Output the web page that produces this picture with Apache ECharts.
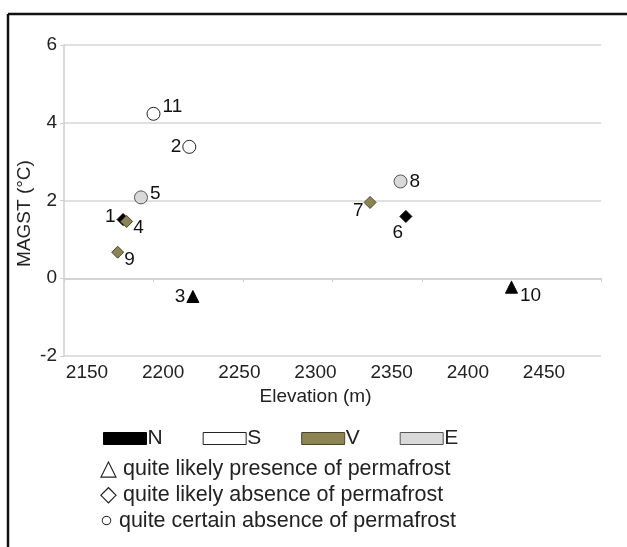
<!DOCTYPE html>
<html>
<head>
<meta charset="utf-8">
<script src="https://cdn.jsdelivr.net/npm/echarts@6/dist/echarts.min.js"></script>
<style>
  html, body { margin: 0; padding: 0; background: #fff; }
  #chart { width: 627px; height: 547px; }
</style>
</head>
<body>
<div id="chart"></div>
<script>
// site numbers, elevation (m), MAGST (°C)
const siteIds = ['1', '2', '3', '4', '5', '6', '7', '8', '9', '10', '11'];
const elevation = [2183, 2220, 2222, 2185, 2193, 2341, 2321, 2338, 2180, 2400, 2200];
const magst = [1.51, 3.38, -0.47, 1.46, 2.08, 1.59, 1.95, 2.49, 0.67, -0.23, 4.23];
// exposure: N / S / V / E
const exposure = ['N', 'S', 'N', 'V', 'E', 'N', 'V', 'E', 'V', 'N', 'S'];
// permafrost class: 0 presence likely, 1 absence likely, 2 absence certain
const pfClass = [1, 2, 0, 1, 2, 1, 1, 2, 1, 0, 2];

const exposureNames = ['N', 'S', 'V', 'E'];
const classNotes = [
  '\u25B3 quite likely presence of permafrost',
  '\u25C7 quite likely absence of permafrost',
  '\u25CB quite certain absence of permafrost'
];
const xTicks = [2150, 2200, 2250, 2300, 2350, 2400, 2450];
const yTicks = [-2, 0, 2, 4, 6];

const fills = {
  N: { color: '#000000', borderColor: '#000000' },
  S: { color: '#ffffff', borderColor: '#222222' },
  V: { color: '#8c8451', borderColor: '#4a4632' },
  E: { color: '#d9d9d9', borderColor: '#555555' }
};
const symbols = ['triangle', 'diamond', 'circle'];
const symbolSizes = [12, 12, 13];

// where each site number sits next to its marker
const labelSide = {
  '1': ['left', [2, -3]],
  '2': ['left', [2, 0]],
  '3': ['left', [2, 0]],
  '4': ['right', [-3, 6]],
  '5': ['right', [-1, -4]],
  '6': ['bottom', [-8, -3]],
  '7': ['left', [3, 8]],
  '8': ['right', [-1, 0]],
  '9': ['right', [-3, 8]],
  '10': ['right', [-1, 9]],
  '11': ['right', [-1, -7]]
};

const font = 'Liberation Sans, Arial, sans-serif';
const chart = echarts.init(document.getElementById('chart'));

const series = exposureNames.map(function (exp) {
  const data = [];
  siteIds.forEach(function (id, i) {
    if (exposure[i] !== exp) return;
    data.push({
      name: id,
      value: [elevation[i], magst[i]],
      symbol: symbols[pfClass[i]],
      symbolSize: symbolSizes[pfClass[i]],
      label: { position: labelSide[id][0], offset: labelSide[id][1] }
    });
  });
  return {
    name: exp,
    type: 'scatter',
    xAxisIndex: 0,
    yAxisIndex: 0,
    itemStyle: { color: fills[exp].color, borderColor: fills[exp].borderColor, borderWidth: 1, opacity: 1 },
    label: {
      show: true,
      formatter: '{b}',
      color: '#111',
      fontSize: 19,
      fontFamily: font,
      distance: 3
    },
    emphasis: { disabled: true },
    data: data
  };
});

const option = {
  backgroundColor: '#fff',
  animation: false,
  grid: [
    { left: 64, right: 26, top: 45, bottom: 191 },
    // only carries the elevation tick labels, which sit offset from the ticks
    { left: 87, right: 83, top: 45, bottom: 191 }
  ],
  xAxis: [
    {
      type: 'value', gridIndex: 0,
      min: xTicks[0], max: xTicks[xTicks.length - 1], interval: 50,
      axisLine: { onZero: true, lineStyle: { color: '#cfcfcf', width: 1.5 } },
      axisTick: { show: true, length: 4, lineStyle: { color: '#cfcfcf' } },
      axisLabel: { show: false },
      splitLine: { show: false }
    },
    {
      type: 'value', gridIndex: 1,
      min: xTicks[0], max: xTicks[xTicks.length - 1], interval: 50,
      axisLine: { show: false }, axisTick: { show: false }, splitLine: { show: false },
      axisLabel: { color: '#222', fontSize: 19, fontFamily: font, margin: 7, formatter: function (v) { return String(v); } },
      name: 'Elevation (m)', nameLocation: 'middle', nameGap: 31, nameMoveOverlap: false,
      nameTextStyle: { color: '#222', fontSize: 19, fontFamily: font }
    }
  ],
  yAxis: [
    {
      type: 'value', gridIndex: 0,
      min: yTicks[0], max: yTicks[yTicks.length - 1], interval: 2,
      axisLine: { show: true, onZero: false, lineStyle: { color: '#cfcfcf', width: 1.5 } },
      axisTick: { show: true, length: 4, lineStyle: { color: '#cfcfcf' } },
      axisLabel: { color: '#222', fontSize: 19, fontFamily: font, margin: 7 },
      splitLine: { lineStyle: { color: '#d6d6d6', width: 1.5 } },
      name: 'MAGST (\u00B0C)', nameLocation: 'middle', nameGap: 30, nameMoveOverlap: false,
      nameTextStyle: { color: '#222', fontSize: 19, fontFamily: font, padding: [0, 26, 0, 0] }
    },
    {
      type: 'value', gridIndex: 1, show: false,
      min: yTicks[0], max: yTicks[yTicks.length - 1]
    }
  ],
  legend: {
    left: 103, top: 428, padding: 0,
    itemWidth: 43, itemHeight: 12, itemGap: 40,
    icon: 'rect',
    textStyle: { color: '#222', fontSize: 21, fontFamily: font, padding: [0, 0, 0, -4] },
    data: exposureNames.map(function (exp) {
      return {
        name: exp,
        itemStyle: { color: fills[exp].color, borderColor: fills[exp].borderColor, borderWidth: 1, opacity: 1 }
      };
    })
  },
  graphic: [
    // frame around the figure (top and left edges only)
    { type: 'line', shape: { x1: 8, y1: 14, x2: 627, y2: 14 }, style: { stroke: '#111', lineWidth: 2.5 } },
    { type: 'line', shape: { x1: 8, y1: 14, x2: 8, y2: 547 }, style: { stroke: '#111', lineWidth: 2.5 } }
  ].concat(classNotes.map(function (txt, i) {
    return {
      type: 'text', left: 100, top: 458 + i * 26,
      style: { text: txt, fill: '#222', fontSize: 21.5, fontFamily: font }
    };
  })),
  series: series
};

chart.setOption(option);
</script>
</body>
</html>
